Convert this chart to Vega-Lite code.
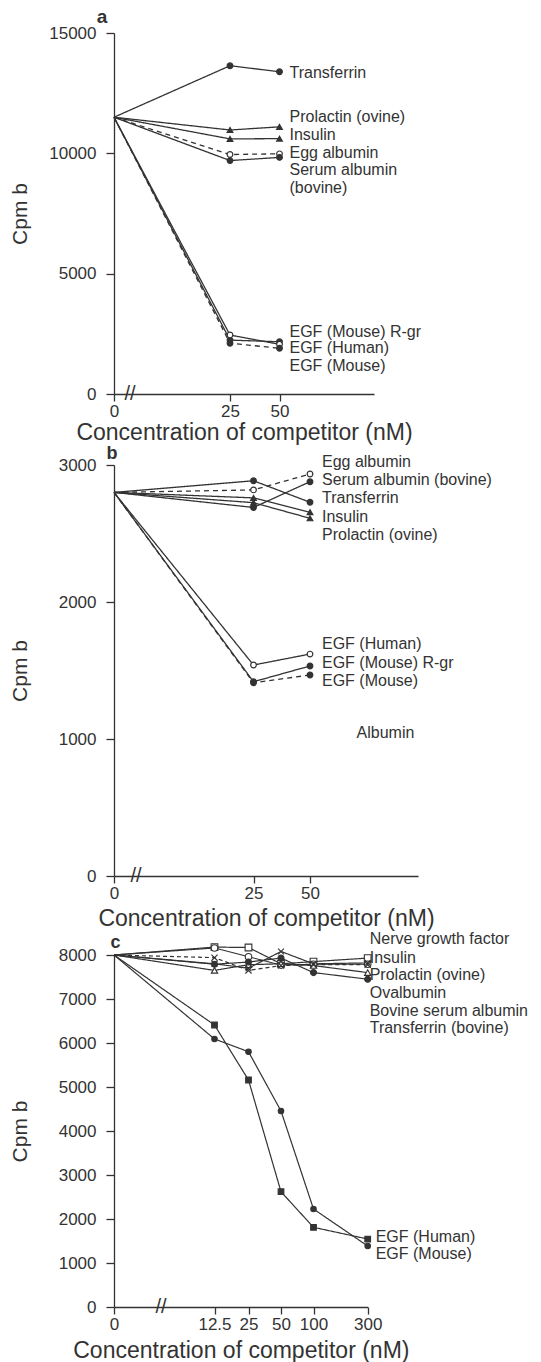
{
  "$schema": "https://vega.github.io/schema/vega-lite/v6.json",
  "background": "white",
  "padding": {"left": 9, "top": 8, "right": 0, "bottom": 0},
  "spacing": 1,
  "config": {
    "font": "Liberation Sans",
    "view": {"stroke": null},
    "axis": {"grid": false, "domainColor": "#333", "tickColor": "#333", "labelColor": "#333", "titleColor": "#333", "labelFontSize": 17, "titleFontSize": 23, "titleFontWeight": "normal", "tickSize": 7, "domainWidth": 1.3, "tickWidth": 1.3, "labelPadding": 2, "labelFont": "Liberation Sans", "titleFont": "Liberation Sans"},
    "axisY": {"labelPadding": 10, "tickSize": 8},
    "text": {"font": "Liberation Sans", "color": "#333"}
  },
  "datasets": {
    "a": [
      {"series": "Transferrin", "conc": 0, "cpm": 11500}, {"series": "Transferrin", "conc": 25, "cpm": 13640}, {"series": "Transferrin", "conc": 50, "cpm": 13390},
      {"series": "Prolactin (ovine)", "conc": 0, "cpm": 11500}, {"series": "Prolactin (ovine)", "conc": 25, "cpm": 10970}, {"series": "Prolactin (ovine)", "conc": 50, "cpm": 11100},
      {"series": "Insulin", "conc": 0, "cpm": 11500}, {"series": "Insulin", "conc": 25, "cpm": 10600}, {"series": "Insulin", "conc": 50, "cpm": 10610},
      {"series": "Egg albumin", "conc": 0, "cpm": 11500}, {"series": "Egg albumin", "conc": 25, "cpm": 9950}, {"series": "Egg albumin", "conc": 50, "cpm": 9980},
      {"series": "Serum albumin (bovine)", "conc": 0, "cpm": 11500}, {"series": "Serum albumin (bovine)", "conc": 25, "cpm": 9700}, {"series": "Serum albumin (bovine)", "conc": 50, "cpm": 9830},
      {"series": "EGF (Mouse) R-gr", "conc": 0, "cpm": 11500}, {"series": "EGF (Mouse) R-gr", "conc": 25, "cpm": 2240}, {"series": "EGF (Mouse) R-gr", "conc": 50, "cpm": 2170},
      {"series": "EGF (Human)", "conc": 0, "cpm": 11500}, {"series": "EGF (Human)", "conc": 25, "cpm": 2450}, {"series": "EGF (Human)", "conc": 50, "cpm": 2065},
      {"series": "EGF (Mouse)", "conc": 0, "cpm": 11500}, {"series": "EGF (Mouse)", "conc": 25, "cpm": 2110}, {"series": "EGF (Mouse)", "conc": 50, "cpm": 1900}
    ],
    "aLabels": [
      {"label": "Transferrin", "conc": 50, "cpm": 13350},
      {"label": "Prolactin (ovine)", "conc": 50, "cpm": 11520},
      {"label": "Insulin", "conc": 50, "cpm": 10760},
      {"label": "Egg albumin", "conc": 50, "cpm": 10025},
      {"label": "Serum albumin", "conc": 50, "cpm": 9306},
      {"label": "(bovine)", "conc": 50, "cpm": 8546},
      {"label": "EGF (Mouse) R-gr", "conc": 50, "cpm": 2588},
      {"label": "EGF (Human)", "conc": 50, "cpm": 1898},
      {"label": "EGF (Mouse)", "conc": 50, "cpm": 1176}
    ],
    "b": [
      {"series": "Egg albumin", "conc": 0, "cpm": 2800}, {"series": "Egg albumin", "conc": 25, "cpm": 2818}, {"series": "Egg albumin", "conc": 50, "cpm": 2934},
      {"series": "Serum albumin (bovine)", "conc": 0, "cpm": 2800}, {"series": "Serum albumin (bovine)", "conc": 25, "cpm": 2690}, {"series": "Serum albumin (bovine)", "conc": 50, "cpm": 2878},
      {"series": "Transferrin", "conc": 0, "cpm": 2800}, {"series": "Transferrin", "conc": 25, "cpm": 2885}, {"series": "Transferrin", "conc": 50, "cpm": 2728},
      {"series": "Insulin", "conc": 0, "cpm": 2800}, {"series": "Insulin", "conc": 25, "cpm": 2760}, {"series": "Insulin", "conc": 50, "cpm": 2655},
      {"series": "Prolactin (ovine)", "conc": 0, "cpm": 2800}, {"series": "Prolactin (ovine)", "conc": 25, "cpm": 2725}, {"series": "Prolactin (ovine)", "conc": 50, "cpm": 2611},
      {"series": "EGF (Human)", "conc": 0, "cpm": 2800}, {"series": "EGF (Human)", "conc": 25, "cpm": 1540}, {"series": "EGF (Human)", "conc": 50, "cpm": 1620},
      {"series": "EGF (Mouse) R-gr", "conc": 0, "cpm": 2800}, {"series": "EGF (Mouse) R-gr", "conc": 25, "cpm": 1418}, {"series": "EGF (Mouse) R-gr", "conc": 50, "cpm": 1533},
      {"series": "EGF (Mouse)", "conc": 0, "cpm": 2800}, {"series": "EGF (Mouse)", "conc": 25, "cpm": 1410}, {"series": "EGF (Mouse)", "conc": 50, "cpm": 1467}
    ],
    "bLabels": [
      {"label": "Egg albumin", "conc": 50, "cpm": 3020},
      {"label": "Serum albumin (bovine)", "conc": 50, "cpm": 2890},
      {"label": "Transferrin", "conc": 50, "cpm": 2757},
      {"label": "Insulin", "conc": 50, "cpm": 2623},
      {"label": "Prolactin (ovine)", "conc": 50, "cpm": 2489},
      {"label": "EGF (Human)", "conc": 50, "cpm": 1691},
      {"label": "EGF (Mouse) R-gr", "conc": 50, "cpm": 1557},
      {"label": "EGF (Mouse)", "conc": 50, "cpm": 1426},
      {"label": "Albumin", "conc": 66, "cpm": 1042}
    ],
    "c": [
      {"series": "Nerve growth factor", "conc": 0, "cpm": 8000}, {"series": "Nerve growth factor", "conc": 12.5, "cpm": 8180}, {"series": "Nerve growth factor", "conc": 25, "cpm": 8170}, {"series": "Nerve growth factor", "conc": 50, "cpm": 7800}, {"series": "Nerve growth factor", "conc": 100, "cpm": 7850}, {"series": "Nerve growth factor", "conc": 300, "cpm": 7930},
      {"series": "Insulin", "conc": 0, "cpm": 8000}, {"series": "Insulin", "conc": 12.5, "cpm": 8160}, {"series": "Insulin", "conc": 25, "cpm": 7960}, {"series": "Insulin", "conc": 50, "cpm": 7770}, {"series": "Insulin", "conc": 100, "cpm": 7790}, {"series": "Insulin", "conc": 300, "cpm": 7790},
      {"series": "Prolactin (ovine)", "conc": 0, "cpm": 8000}, {"series": "Prolactin (ovine)", "conc": 12.5, "cpm": 7650}, {"series": "Prolactin (ovine)", "conc": 25, "cpm": 7780}, {"series": "Prolactin (ovine)", "conc": 50, "cpm": 7800}, {"series": "Prolactin (ovine)", "conc": 100, "cpm": 7760}, {"series": "Prolactin (ovine)", "conc": 300, "cpm": 7600},
      {"series": "Ovalbumin", "conc": 0, "cpm": 8000}, {"series": "Ovalbumin", "conc": 12.5, "cpm": 7940}, {"series": "Ovalbumin", "conc": 25, "cpm": 7650}, {"series": "Ovalbumin", "conc": 50, "cpm": 7760}, {"series": "Ovalbumin", "conc": 100, "cpm": 7780}, {"series": "Ovalbumin", "conc": 300, "cpm": 7780},
      {"series": "Bovine serum albumin", "conc": 0, "cpm": 8000}, {"series": "Bovine serum albumin", "conc": 12.5, "cpm": 7790}, {"series": "Bovine serum albumin", "conc": 25, "cpm": 7840}, {"series": "Bovine serum albumin", "conc": 50, "cpm": 7930}, {"series": "Bovine serum albumin", "conc": 100, "cpm": 7600}, {"series": "Bovine serum albumin", "conc": 300, "cpm": 7450},
      {"series": "Transferrin (bovine)", "conc": 0, "cpm": 8000}, {"series": "Transferrin (bovine)", "conc": 12.5, "cpm": 7800}, {"series": "Transferrin (bovine)", "conc": 25, "cpm": 7700}, {"series": "Transferrin (bovine)", "conc": 50, "cpm": 8080}, {"series": "Transferrin (bovine)", "conc": 100, "cpm": 7800}, {"series": "Transferrin (bovine)", "conc": 300, "cpm": 7820},
      {"series": "EGF (Human)", "conc": 0, "cpm": 8000}, {"series": "EGF (Human)", "conc": 12.5, "cpm": 6409}, {"series": "EGF (Human)", "conc": 25, "cpm": 5159}, {"series": "EGF (Human)", "conc": 50, "cpm": 2620}, {"series": "EGF (Human)", "conc": 100, "cpm": 1811}, {"series": "EGF (Human)", "conc": 300, "cpm": 1545},
      {"series": "EGF (Mouse)", "conc": 0, "cpm": 8000}, {"series": "EGF (Mouse)", "conc": 12.5, "cpm": 6091}, {"series": "EGF (Mouse)", "conc": 25, "cpm": 5802}, {"series": "EGF (Mouse)", "conc": 50, "cpm": 4455}, {"series": "EGF (Mouse)", "conc": 100, "cpm": 2227}, {"series": "EGF (Mouse)", "conc": 300, "cpm": 1386}
    ],
    "cLabelsTop": [
      {"label": "Nerve growth factor", "conc": 300, "cpm": 8357},
      {"label": "Insulin", "conc": 300, "cpm": 7939},
      {"label": "Prolactin (ovine)", "conc": 300, "cpm": 7545},
      {"label": "Ovalbumin", "conc": 300, "cpm": 7130},
      {"label": "Bovine serum albumin", "conc": 300, "cpm": 6727},
      {"label": "Transferrin (bovine)", "conc": 300, "cpm": 6334}
    ],
    "cLabelsEgf": [
      {"label": "EGF (Human)", "conc": 300, "cpm": 1598},
      {"label": "EGF (Mouse)", "conc": 300, "cpm": 1205}
    ]
  },
  "vconcat": [
    {
      "width": 260,
      "height": 361,
      "encoding": {
        "x": {"field": "conc", "type": "quantitative", "scale": {"domain": [0, 25, 50, 100], "range": [0, 116, 165.5, 260], "nice": false, "zero": false}, "axis": {"values": [0, 25, 50], "title": "Concentration of competitor (nM)", "labelFlush": false, "titlePadding": 2}},
        "y": {"field": "cpm", "type": "quantitative", "scale": {"domain": [0, 15000], "nice": false}, "axis": {"values": [0, 5000, 10000, 15000], "format": "d", "title": "Cpm b", "titleFontSize": 21, "titleX": -84}}
      },
      "layer": [
        {"data": {"name": "a"}, "mark": {"type": "line", "color": "#333", "strokeWidth": 1.3},
         "encoding": {"detail": {"field": "series"},
           "strokeDash": {"field": "series", "type": "nominal", "legend": null, "scale": {"domain": ["Transferrin", "Prolactin (ovine)", "Insulin", "Egg albumin", "Serum albumin (bovine)", "EGF (Mouse) R-gr", "EGF (Human)", "EGF (Mouse)"], "range": [[1, 0], [1, 0], [1, 0], [5, 4], [1, 0], [1, 0], [1, 0], [5, 4]]}}}},
        {"data": {"name": "a"}, "transform": [{"filter": "datum.conc > 0"}], "mark": {"type": "point", "filled": true, "stroke": "#333", "strokeWidth": 1.2, "size": 32, "opacity": 1},
         "encoding": {
           "shape": {"field": "series", "type": "nominal", "legend": null, "scale": {"domain": ["Transferrin", "Prolactin (ovine)", "Insulin", "Egg albumin", "Serum albumin (bovine)", "EGF (Mouse) R-gr", "EGF (Human)", "EGF (Mouse)"], "range": ["circle", "triangle-up", "triangle-up", "circle", "circle", "circle", "circle", "circle"]}},
           "fill": {"field": "series", "type": "nominal", "legend": null, "scale": {"domain": ["Transferrin", "Prolactin (ovine)", "Insulin", "Egg albumin", "Serum albumin (bovine)", "EGF (Mouse) R-gr", "EGF (Human)", "EGF (Mouse)"], "range": ["#333", "#333", "#333", "white", "#333", "#333", "white", "#333"]}}}},
        {"data": {"name": "aLabels"}, "mark": {"type": "text", "align": "left", "baseline": "middle", "dx": 10, "fontSize": 16, "color": "#333"},
         "encoding": {"text": {"field": "label"}}},
        {"data": {"values": [{"label": "a", "conc": 0, "cpm": 15000}]}, "mark": {"type": "text", "align": "center", "baseline": "middle", "dx": -12, "dy": -16, "fontSize": 19, "fontWeight": "bold", "color": "#333"},
         "encoding": {"text": {"field": "label"}}},
        {"data": {"values": [{"label": "//", "conc": 3.45, "cpm": 0}]}, "mark": {"type": "text", "align": "center", "baseline": "middle", "fontSize": 20, "color": "#333"},
         "encoding": {"text": {"field": "label"}}}
      ]
    },
    {
      "width": 304,
      "height": 411,
      "encoding": {
        "x": {"field": "conc", "type": "quantitative", "scale": {"domain": [0, 25, 50, 100], "range": [0, 139.5, 196, 304], "nice": false, "zero": false}, "axis": {"values": [0, 25, 50], "title": "Concentration of competitor (nM)", "labelFlush": false, "titlePadding": 6}},
        "y": {"field": "cpm", "type": "quantitative", "scale": {"domain": [0, 3000], "nice": false}, "axis": {"values": [0, 1000, 2000, 3000], "format": "d", "title": "Cpm b", "titleFontSize": 21, "titleX": -84}}
      },
      "layer": [
        {"data": {"name": "b"}, "mark": {"type": "line", "color": "#333", "strokeWidth": 1.3},
         "encoding": {"detail": {"field": "series"},
           "strokeDash": {"field": "series", "type": "nominal", "legend": null, "scale": {"domain": ["Egg albumin", "Serum albumin (bovine)", "Transferrin", "Insulin", "Prolactin (ovine)", "EGF (Human)", "EGF (Mouse) R-gr", "EGF (Mouse)"], "range": [[5, 4], [1, 0], [1, 0], [1, 0], [1, 0], [1, 0], [1, 0], [5, 4]]}}}},
        {"data": {"name": "b"}, "transform": [{"filter": "datum.conc > 0"}], "mark": {"type": "point", "filled": true, "stroke": "#333", "strokeWidth": 1.2, "size": 32, "opacity": 1},
         "encoding": {
           "shape": {"field": "series", "type": "nominal", "legend": null, "scale": {"domain": ["Egg albumin", "Serum albumin (bovine)", "Transferrin", "Insulin", "Prolactin (ovine)", "EGF (Human)", "EGF (Mouse) R-gr", "EGF (Mouse)"], "range": ["circle", "circle", "circle", "triangle-up", "triangle-up", "circle", "circle", "circle"]}},
           "fill": {"field": "series", "type": "nominal", "legend": null, "scale": {"domain": ["Egg albumin", "Serum albumin (bovine)", "Transferrin", "Insulin", "Prolactin (ovine)", "EGF (Human)", "EGF (Mouse) R-gr", "EGF (Mouse)"], "range": ["white", "#333", "#333", "#333", "#333", "white", "#333", "#333"]}}}},
        {"data": {"name": "bLabels"}, "mark": {"type": "text", "align": "left", "baseline": "middle", "dx": 12, "fontSize": 16, "color": "#333"},
         "encoding": {"text": {"field": "label"}}},
        {"data": {"values": [{"label": "b", "conc": 0, "cpm": 3000}]}, "mark": {"type": "text", "align": "center", "baseline": "middle", "dx": -2, "dy": -11, "fontSize": 18, "fontWeight": "bold", "color": "#333"},
         "encoding": {"text": {"field": "label"}}},
        {"data": {"values": [{"label": "//", "conc": 3.94, "cpm": 0}]}, "mark": {"type": "text", "align": "center", "baseline": "middle", "fontSize": 20, "color": "#333"},
         "encoding": {"text": {"field": "label"}}}
      ]
    },
    {
      "width": 254,
      "height": 352,
      "encoding": {
        "x": {"field": "conc", "type": "quantitative", "scale": {"domain": [0, 12.5, 25, 50, 100, 300], "range": [0, 100.5, 134.5, 167, 199.5, 253.7], "nice": false, "zero": false}, "axis": {"values": [0, 12.5, 25, 50, 100, 300], "format": ".3~r", "title": "Concentration of competitor (nM)", "labelFlush": false, "titlePadding": 7}},
        "y": {"field": "cpm", "type": "quantitative", "scale": {"domain": [0, 8000], "nice": false}, "axis": {"values": [0, 1000, 2000, 3000, 4000, 5000, 6000, 7000, 8000], "format": "d", "title": "Cpm b", "titleFontSize": 21, "titleX": -84}}
      },
      "layer": [
        {"data": {"name": "c"}, "mark": {"type": "line", "color": "#333", "strokeWidth": 1.2},
         "encoding": {"detail": {"field": "series"},
           "strokeDash": {"field": "series", "type": "nominal", "legend": null, "scale": {"domain": ["Nerve growth factor", "Insulin", "Prolactin (ovine)", "Ovalbumin", "Bovine serum albumin", "Transferrin (bovine)", "EGF (Human)", "EGF (Mouse)"], "range": [[1, 0], [1, 0], [1, 0], [4, 3], [1, 0], [1, 0], [1, 0], [1, 0]]}}}},
        {"data": {"name": "c"}, "transform": [{"filter": "datum.conc > 0"}], "mark": {"type": "point", "filled": true, "stroke": "#333", "strokeWidth": 1.1, "opacity": 1},
         "encoding": {
           "shape": {"field": "series", "type": "nominal", "legend": null, "scale": {"domain": ["Nerve growth factor", "Insulin", "Prolactin (ovine)", "Ovalbumin", "Bovine serum albumin", "Transferrin (bovine)", "EGF (Human)", "EGF (Mouse)"], "range": ["square", "circle", "triangle-up", "M-1,-1L1,1M-1,1L1,-1", "circle", "M-1,-1L1,1M-1,1L1,-1", "square", "circle"]}},
           "fill": {"field": "series", "type": "nominal", "legend": null, "scale": {"domain": ["Nerve growth factor", "Insulin", "Prolactin (ovine)", "Ovalbumin", "Bovine serum albumin", "Transferrin (bovine)", "EGF (Human)", "EGF (Mouse)"], "range": ["white", "white", "white", "white", "#333", "white", "#333", "#333"]}},
           "size": {"field": "series", "type": "nominal", "legend": null, "scale": {"domain": ["Nerve growth factor", "Insulin", "Prolactin (ovine)", "Ovalbumin", "Bovine serum albumin", "Transferrin (bovine)", "EGF (Human)", "EGF (Mouse)"], "range": [45, 30, 30, 25, 30, 25, 60, 25]}}}},
        {"data": {"name": "cLabelsTop"}, "mark": {"type": "text", "align": "left", "baseline": "middle", "dx": 2, "fontSize": 16, "color": "#333"},
         "encoding": {"text": {"field": "label"}}},
        {"data": {"name": "cLabelsEgf"}, "mark": {"type": "text", "align": "left", "baseline": "middle", "dx": 8, "fontSize": 16, "color": "#333"},
         "encoding": {"text": {"field": "label"}}},
        {"data": {"values": [{"label": "c", "conc": 0, "cpm": 8000}]}, "mark": {"type": "text", "align": "center", "baseline": "middle", "dx": 1.5, "dy": -12, "fontSize": 18, "fontWeight": "bold", "color": "#333"},
         "encoding": {"text": {"field": "label"}}},
        {"data": {"values": [{"label": "//", "conc": 5.85, "cpm": 0}]}, "mark": {"type": "text", "align": "center", "baseline": "middle", "fontSize": 20, "color": "#333"},
         "encoding": {"text": {"field": "label"}}}
      ]
    }
  ],
  "resolve": {"scale": {"x": "independent", "y": "independent", "shape": "independent", "fill": "independent", "strokeDash": "independent", "size": "independent"}}
}
